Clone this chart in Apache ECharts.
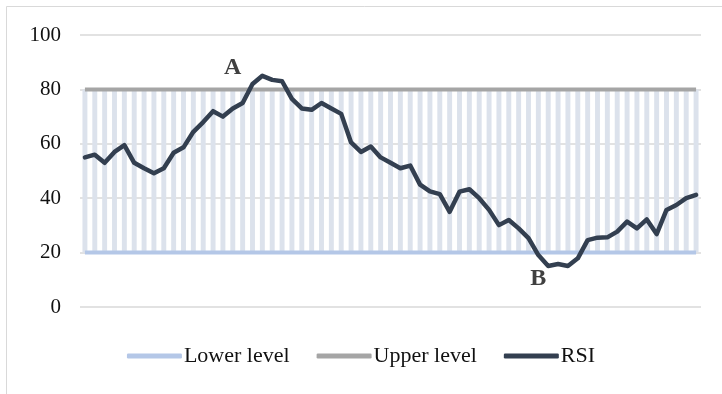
<!DOCTYPE html>
<html>
<head>
<meta charset="utf-8">
<script src="https://cdn.jsdelivr.net/npm/echarts@6/dist/echarts.min.js"></script>
<style>
  html, body { margin: 0; padding: 0; background: #fff; }
  #main { width: 722px; height: 394px; }
</style>
</head>
<body>
<div id="main"></div>
<script>
// RSI values, one per period
const rsi = [55, 56, 53, 57, 59.5, 53, 51, 49.2, 51, 56.7, 58.7, 64.4, 68, 72, 70, 73, 75, 82, 85, 83.5,
  83, 76.5, 73, 72.5, 75, 73, 71, 60.5, 57, 59, 55, 53, 51, 52, 45, 42.5, 41.5, 35, 42.4, 43.3,
  40, 35.7, 30.1, 32, 28.9, 25.3, 19.1, 15.1, 15.8, 15.1, 17.9, 24.6, 25.5, 25.6, 27.7, 31.4, 28.9, 32.2, 26.8, 35.7,
  37.5, 40, 41.2]
const periods = rsi.map((v, i) => String(i + 1))
const lowerLevel = periods.map(() => 20)
const upperLevel = periods.map(() => 80)
// band between the levels (drawn as thin columns)
const bandBase = lowerLevel
const bandSize = periods.map((p, i) => upperLevel[i] - lowerLevel[i])
// point labels
const notes = [
  { name: 'A', period: '16', value: 88 },
  { name: 'B', period: '47', value: 10.5 }
]

const font = 'Liberation Serif'
const chart = echarts.init(document.querySelector('#main'))
const option = {
  backgroundColor: '#fff',
  animation: false,
  graphic: [{
    type: 'rect',
    shape: { x: 6.5, y: 6.5, width: 800, height: 500 },
    style: { fill: 'none', stroke: '#d9d9d9', lineWidth: 1 }
  }],
  grid: { left: 80, right: 21, top: 35, bottom: 87 },
  legend: {
    bottom: 22,
    left: 'center',
    itemWidth: 55,
    itemHeight: 5,
    itemGap: 27,
    icon: 'roundRect',
    data: ['Lower level', 'Upper level', 'RSI'],
    textStyle: { fontFamily: font, fontSize: 22, color: '#111', padding: [0, 0, 0, -3] }
  },
  xAxis: {
    type: 'category',
    data: periods,
    boundaryGap: true,
    axisLine: { show: false },
    axisTick: { show: false },
    axisLabel: { show: false }
  },
  yAxis: {
    type: 'value',
    min: 0,
    max: 100,
    interval: 20,
    axisLine: { show: false },
    axisTick: { show: false },
    axisLabel: { fontFamily: font, fontSize: 21, color: '#111', margin: 19 },
    splitLine: { lineStyle: { color: '#d9d9d9', width: 1.5 } }
  },
  series: [
    {
      name: 'base',
      type: 'bar',
      stack: 'band',
      data: bandBase,
      barWidth: '50%',
      itemStyle: { color: 'transparent' },
      silent: true
    },
    {
      name: 'band',
      type: 'bar',
      stack: 'band',
      data: bandSize,
      barWidth: '50%',
      itemStyle: { color: '#dce2ec' },
      silent: true
    },
    {
      name: 'Lower level',
      type: 'line',
      data: lowerLevel,
      symbol: 'none',
      color: '#b4c7e7',
      lineStyle: { width: 4, color: '#b4c7e7' }
    },
    {
      name: 'Upper level',
      type: 'line',
      data: upperLevel,
      symbol: 'none',
      color: '#a5a5a5',
      lineStyle: { width: 4, color: '#a5a5a5' }
    },
    {
      name: 'RSI',
      type: 'line',
      data: rsi,
      symbol: 'none',
      color: '#333f50',
      lineStyle: { width: 4.5, color: '#333f50', join: 'round', cap: 'round' },
      markPoint: {
        symbol: 'circle',
        symbolSize: 0,
        label: {
          show: true,
          position: 'inside',
          formatter: p => p.name,
          fontFamily: font,
          fontWeight: 'bold',
          fontSize: 24,
          color: '#404040'
        },
        data: notes.map(n => ({ name: n.name, coord: [n.period, n.value] }))
      }
    }
  ]
}
chart.setOption(option)
</script>
</body>
</html>
